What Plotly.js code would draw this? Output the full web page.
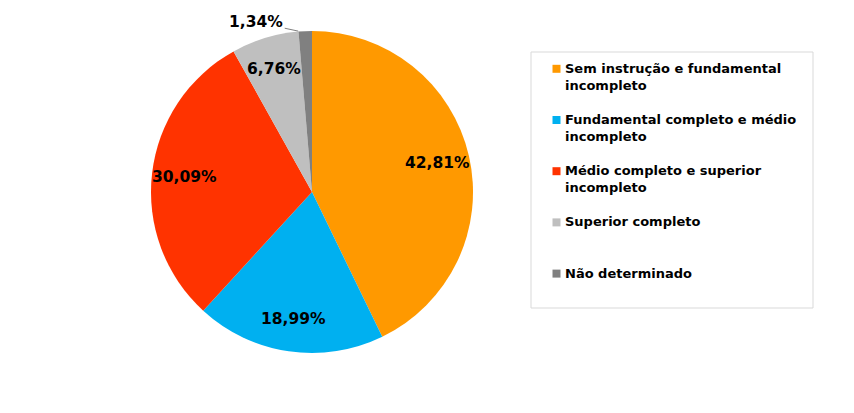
<!DOCTYPE html>
<html>
<head>
<meta charset="utf-8">
<script src="https://cdn.plot.ly/plotly-3.0.1.min.js"></script>
<style>
  html, body { margin: 0; padding: 0; background: #fff; }
  #chart { width: 854px; height: 413px; }
</style>
</head>
<body>
<div id="chart"></div>
<script>
// categories and shares (%)
var categorias = [
  'Sem instrução e fundamental<br>incompleto',
  'Fundamental completo e médio<br>incompleto',
  'Médio completo e superior<br>incompleto',
  'Superior completo',
  'Não determinado'
];
var percentuais = [42.81, 18.99, 30.09, 6.76, 1.34];
var cores = ['#FF9900', '#00B0F0', '#FF3300', '#BFBFBF', '#808080'];

var rotulos = percentuais.map(function(v) {
  return v.toFixed(2).replace('.', ',') + '%';
});

var W = 854, H = 413;
var fonte = 'DejaVu Sans, Liberation Sans, Arial, sans-serif';

// pixel -> paper helpers (margins are zero)
function px(x) { return x / W; }
function py(y) { return 1 - y / H; }

var dominio = { x: [0.1768, 0.5539], y: [0.1453, 0.925] };
var cx = (dominio.x[0] + dominio.x[1]) / 2 * W;
var cy = (1 - (dominio.y[0] + dominio.y[1]) / 2) * H;
var raio = Math.min((dominio.x[1] - dominio.x[0]) * W, (dominio.y[1] - dominio.y[0]) * H) / 2;

var pie = {
  type: 'pie',
  labels: categorias,
  values: percentuais,
  textinfo: 'none',
  sort: false,
  direction: 'clockwise',
  rotation: 0,
  marker: { colors: cores, line: { width: 0 } },
  domain: dominio,
  hoverinfo: 'label+percent'
};

var anotacoes = [];
var formas = [];

// slice labels, placed along each slice's mid angle
var total = percentuais.reduce(function(a, b) { return a + b; }, 0);
var acum = 0;
percentuais.forEach(function(v, i) {
  var meio = (acum + v / 2) / total * 2 * Math.PI;
  acum += v;
  var fontLabel = { family: fonte, size: 15.5, color: '#000', weight: 700 };
  if (i < percentuais.length - 1) {
    var r = raio * 0.8;
    anotacoes.push({
      xref: 'paper', yref: 'paper',
      x: px(cx + r * Math.sin(meio)), y: py(cy - r * Math.cos(meio)),
      xanchor: 'center', yanchor: 'middle',
      text: rotulos[i], showarrow: false, font: fontLabel
    });
  } else {
    // small slice: label outside with a leader line
    anotacoes.push({
      xref: 'paper', yref: 'paper',
      x: px(cx + raio * Math.sin(meio) - 7), y: py(cy - raio * Math.cos(meio)),
      text: rotulos[i], showarrow: true, arrowhead: 0, arrowwidth: 1,
      arrowcolor: '#808080', standoff: 0, ax: -42, ay: -9, font: fontLabel
    });
  }
});

// legend box
formas.push({
  type: 'rect', xref: 'paper', yref: 'paper',
  x0: px(531), x1: px(813), y0: py(52), y1: py(308),
  line: { color: '#D9D9D9', width: 1 }, fillcolor: 'rgba(0,0,0,0)'
});

categorias.forEach(function(nome, i) {
  var yc = 68.8 + 51.2 * i;
  formas.push({
    type: 'rect', xref: 'paper', yref: 'paper',
    x0: px(552.5), x1: px(560.5), y0: py(yc - 4), y1: py(yc + 4),
    line: { width: 0 }, fillcolor: cores[i]
  });
  anotacoes.push({
    xref: 'paper', yref: 'paper',
    x: px(563), y: py(yc - 10),
    xanchor: 'left', yanchor: 'top', align: 'left',
    text: nome, showarrow: false,
    font: { family: fonte, size: 13, color: '#000', weight: 700 }
  });
});

var layout = {
  width: W,
  height: H,
  margin: { l: 0, r: 0, t: 0, b: 0 },
  paper_bgcolor: '#fff',
  showlegend: false,
  annotations: anotacoes,
  shapes: formas
};

Plotly.newPlot('chart', [pie], layout, { displayModeBar: false, staticPlot: true });
</script>
</body>
</html>
